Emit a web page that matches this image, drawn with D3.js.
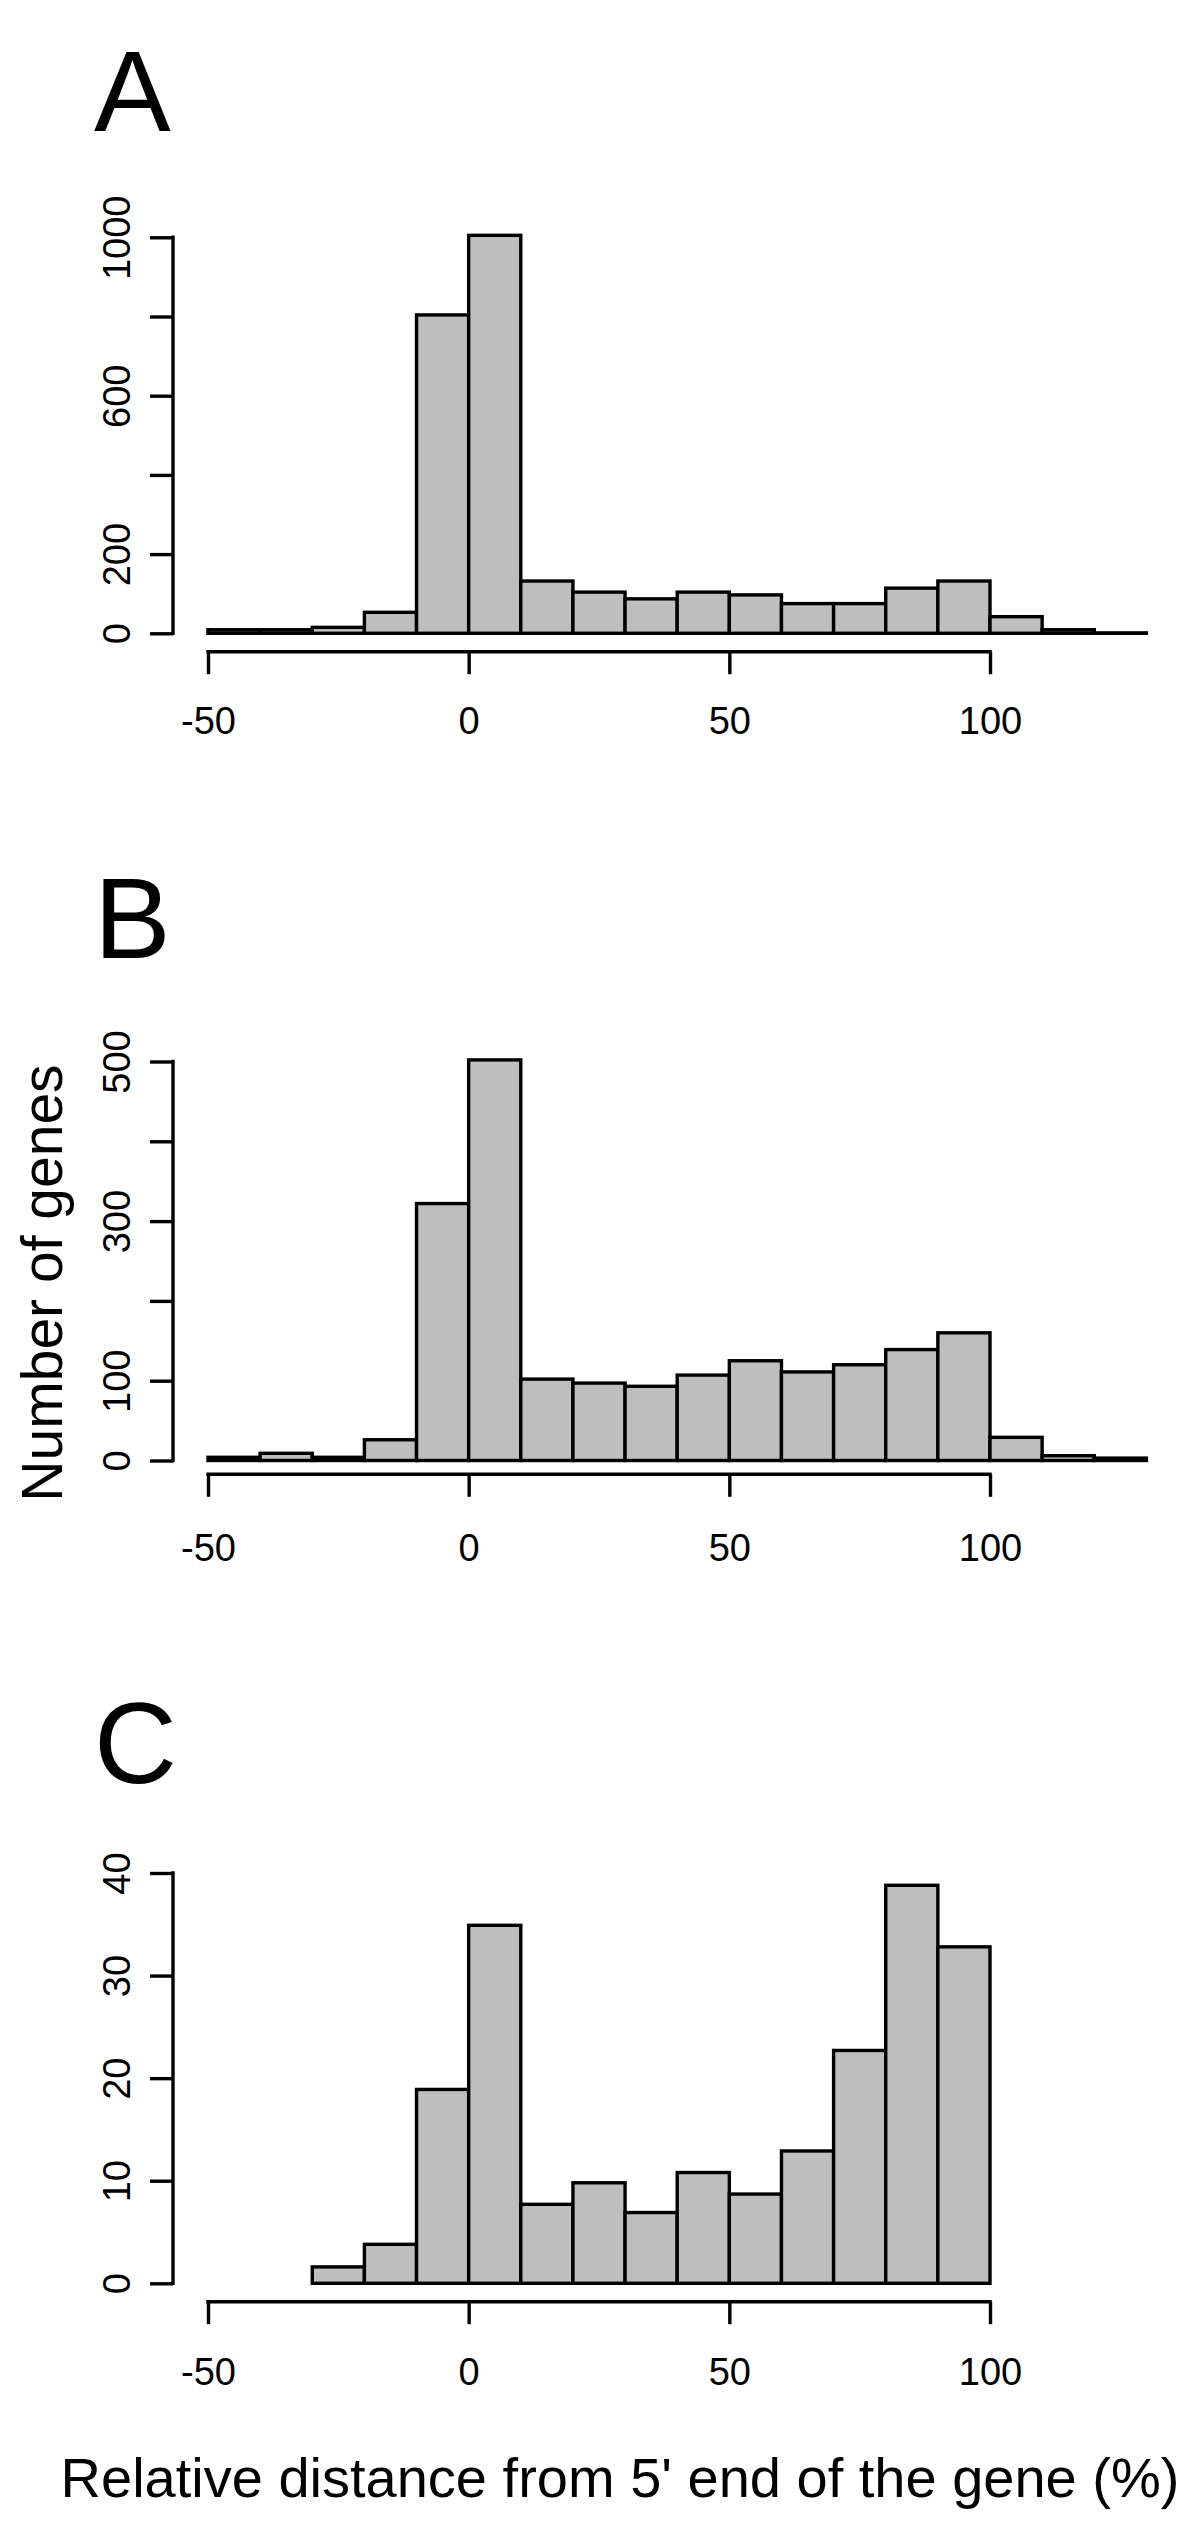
<!DOCTYPE html>
<html>
<head>
<meta charset="utf-8">
<script src="https://cdn.jsdelivr.net/npm/d3@7"></script>
<style>
  html, body { margin: 0; padding: 0; background: #fff; }
  svg { display: block; }
  text { font-family: "Liberation Sans", Arial, Helvetica, sans-serif; fill: #000; }
</style>
</head>
<body>
<svg id="chart" width="1200" height="2533"></svg>
<script>
// ---------------- data ----------------
const binWidth = 10;
const binsA = [-50, -40, -30, -20, -10, 0, 10, 20, 30, 40, 50, 60, 70, 80, 90, 100, 110, 120];
const countsA = [9, 9, 15, 53, 804, 1005, 132, 104, 87, 104, 97, 75, 75, 114, 132, 42, 9, 1];

const binsB = [-50, -40, -30, -20, -10, 0, 10, 20, 30, 40, 50, 60, 70, 80, 90, 100, 110, 120];
const countsB = [4, 9, 4, 26, 322, 502, 102, 97, 93, 107, 125, 111, 120, 139, 160, 29, 6, 3];

const binsC = [-30, -20, -10, 0, 10, 20, 30, 40, 50, 60, 70, 80, 90];
const countsC = [1.6, 3.8, 18.9, 34.9, 7.7, 9.8, 6.9, 10.8, 8.7, 12.9, 22.7, 38.8, 32.8];

const xTicks = [-50, 0, 50, 100];
const xTickLabels = ["-50", "0", "50", "100"];

const yTicksA = [0, 200, 400, 600, 800, 1000];
const yLabelsA = ["0", "200", "", "600", "", "1000"];
const yTicksB = [0, 100, 200, 300, 400, 500];
const yLabelsB = ["0", "100", "", "300", "", "500"];
const yTicksC = [0, 10, 20, 30, 40];
const yLabelsC = ["0", "10", "20", "30", "40"];

const panelLetters = ["A", "B", "C"];
const yAxisTitle = "Number of genes";
const xAxisTitle = "Relative distance from 5' end of the gene (%)";

// ---------------- layout ----------------
const svg = d3.select("#chart");
svg.append("rect").attr("width", 1200).attr("height", 2533).attr("fill", "#fff");

const lw = 3.4;
const axisX = 173;
const x = d3.scaleLinear().domain([-50, 100]).range([208, 990]);

const panels = [
  { letter: panelLetters[0], bins: binsA, counts: countsA, yTicks: yTicksA, yLabels: yLabelsA,
    y0: 633.3, yTopPx: 237.3, letterY: 131, xAxisY: 651.7, labelOff: 82.3 },
  { letter: panelLetters[1], bins: binsB, counts: countsB, yTicks: yTicksB, yLabels: yLabelsB,
    y0: 1460.5, yTopPx: 1061.5, letterY: 958, xAxisY: 1474.3, labelOff: 86.7 },
  { letter: panelLetters[2], bins: binsC, counts: countsC, yTicks: yTicksC, yLabels: yLabelsC,
    y0: 2283.3, yTopPx: 1873, letterY: 1783, xAxisY: 2301.7, labelOff: 83.3 }
];

panels.forEach(p => {
  const yMax = p.yTicks[p.yTicks.length - 1];
  const y = d3.scaleLinear().domain([0, yMax]).range([p.y0, p.yTopPx]);
  const g = svg.append("g");

  // panel letter
  g.append("text")
    .attr("x", 94).attr("y", p.letterY)
    .attr("font-size", 115)
    .text(p.letter);

  // bars
  g.selectAll("rect.bar")
    .data(p.bins.map((b, i) => ({ b, v: p.counts[i] })))
    .join("rect")
    .attr("class", "bar")
    .attr("x", d => x(d.b))
    .attr("width", d => x(d.b + binWidth) - x(d.b))
    .attr("y", d => y(d.v))
    .attr("height", d => y(0) - y(d.v))
    .attr("fill", "#bebebe")
    .attr("stroke", "#000")
    .attr("stroke-width", lw);

  // y axis
  const yAxis = d3.axisLeft(y)
    .tickValues(p.yTicks)
    .tickSize(23)
    .tickSizeOuter(0)
    .tickFormat((d, i) => p.yLabels[i]);
  const ga = g.append("g").attr("transform", `translate(${axisX},0)`).call(yAxis);
  ga.select(".domain").remove();
  ga.append("line")
    .attr("x1", 0).attr("x2", 0)
    .attr("y1", y(p.yTicks[0])).attr("y2", y(yMax))
    .attr("stroke", "#000").attr("stroke-width", lw).attr("stroke-linecap", "square");
  ga.selectAll(".tick line").attr("stroke", "#000").attr("stroke-width", lw);
  ga.selectAll(".tick text")
    .attr("x", null).attr("dy", null)
    .attr("transform", "translate(-43,0) rotate(-90)")
    .attr("text-anchor", "middle")
    .attr("font-size", 38)
    .attr("font-family", "'Liberation Sans', Arial, Helvetica, sans-serif")
    .attr("fill", "#000");

  // x axis
  const xAxis = d3.axisBottom(x)
    .tickValues(xTicks)
    .tickSize(22.5)
    .tickSizeOuter(0)
    .tickFormat((d, i) => xTickLabels[i]);
  const gx = g.append("g").attr("transform", `translate(0,${p.xAxisY})`).call(xAxis);
  gx.select(".domain").remove();
  gx.append("line")
    .attr("x1", x(xTicks[0])).attr("x2", x(xTicks[xTicks.length - 1]))
    .attr("y1", 0).attr("y2", 0)
    .attr("stroke", "#000").attr("stroke-width", lw).attr("stroke-linecap", "square");
  gx.selectAll(".tick line").attr("stroke", "#000").attr("stroke-width", lw);
  gx.selectAll(".tick text")
    .attr("y", p.labelOff).attr("dy", null)
    .attr("font-size", 38)
    .attr("font-family", "'Liberation Sans', Arial, Helvetica, sans-serif")
    .attr("fill", "#000");
});

// axis titles
svg.append("text")
  .attr("transform", "translate(62,1283) rotate(-90)")
  .attr("text-anchor", "middle")
  .attr("font-size", 57)
  .text(yAxisTitle);

svg.append("text")
  .attr("x", 620).attr("y", 2497)
  .attr("text-anchor", "middle")
  .attr("font-size", 56)
  .text(xAxisTitle);
</script>
</body>
</html>
